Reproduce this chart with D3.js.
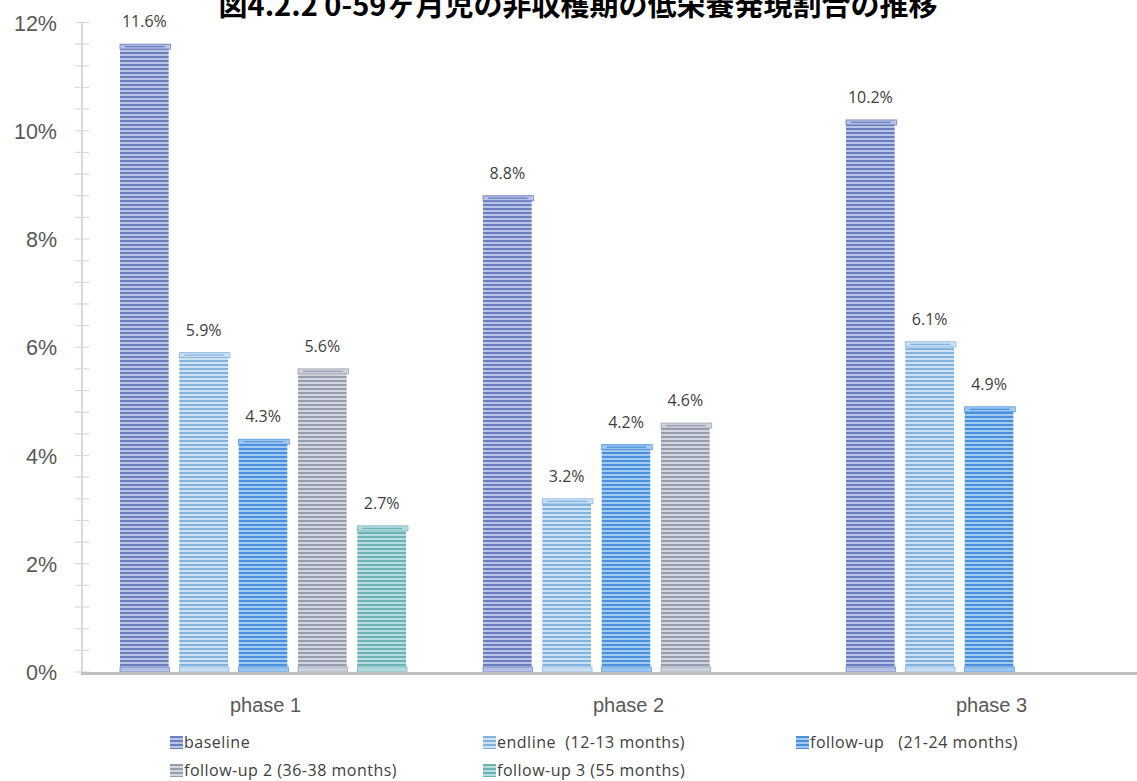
<!DOCTYPE html>
<html>
<head>
<meta charset="utf-8">
<script src="https://cdn.jsdelivr.net/npm/d3@7"></script>
<style>
  html, body { margin: 0; padding: 0; background: #fff; }
  svg { display: block; }
</style>
</head>
<body>
<svg id="chart" width="1137" height="781"></svg>
<script>
const titleText = "図4.2.2 0-59ヶ月児の非収穫期の低栄養発現割合の推移";
const categories = ["phase 1", "phase 2", "phase 3"];
const seriesNames = ["baseline", "endline  (12-13 months)", "follow-up   (21-24 months)", "follow-up 2 (36-38 months)", "follow-up 3 (55 months)"];
const baselineVals = [11.6, 8.8, 10.2];
const endlineVals = [5.9, 3.2, 6.1];
const followup1Vals = [4.3, 4.2, 4.9];
const followup2Vals = [5.6, 4.6, null];
const followup3Vals = [2.7, null, null];
const yTicks = [0, 2, 4, 6, 8, 10, 12];
const seriesDark = ["#6a7ec0", "#80b2de", "#4a90dc", "#959cb0", "#6bb2b5"];
const seriesLight = ["#b9c4e6", "#cfe2f4", "#a3caf1", "#d3d6df", "#b9dddf"];

const allVals = [baselineVals, endlineVals, followup1Vals, followup2Vals, followup3Vals];

const svg = d3.select("#chart");
const defs = svg.append("defs");
seriesNames.forEach((s, i) => {
  const p = defs.append("pattern").attr("id", "pat" + i)
    .attr("patternUnits", "userSpaceOnUse").attr("width", 4).attr("height", 4);
  p.append("rect").attr("width", 4).attr("height", 4).attr("fill", seriesLight[i]);
  p.append("rect").attr("y", 0).attr("width", 4).attr("height", 2).attr("fill", seriesDark[i]);
});

const y = d3.scaleLinear().domain([0, 12]).range([672, 22.5]);
const x0 = d3.scaleBand().domain(categories).range([84, 1173]).paddingInner(0).paddingOuter(0);
const x1 = d3.scaleBand().domain(d3.range(seriesNames.length)).range([36, 322]).paddingInner(0.18).paddingOuter(0);

// title (cropped at the top edge as in the reference)
svg.append("text").attr("x", 578).attr("y", 16).attr("text-anchor", "middle")
  .attr("font-family", "'Noto Sans CJK JP', sans-serif").attr("font-weight", "bold")
  .attr("font-size", 29).attr("fill", "#000").text(titleText);

// y axis
const yAxisG = svg.append("g").attr("transform", "translate(82,0)");
yAxisG.append("line").attr("x1", 0).attr("x2", 0).attr("y1", y(12)).attr("y2", y(0)).attr("stroke", "#d9d9d9").attr("stroke-width", 2);
const minorTicks = d3.range(0, 12.0001, 0.4);
yAxisG.selectAll("line.minor").data(minorTicks).join("line").attr("class", "minor")
  .attr("x1", -7).attr("x2", 7).attr("y1", d => y(d)).attr("y2", d => y(d))
  .attr("stroke", "#d9d9d9").attr("stroke-width", 1.2);
svg.selectAll("text.ytick").data(yTicks).join("text").attr("class", "ytick")
  .attr("x", 57).attr("y", d => y(d) + 8).attr("text-anchor", "end")
  .attr("font-family", "'Liberation Sans', Arial, sans-serif").attr("font-size", 21.5)
  .attr("fill", "#595959").text(d => d + "%");

// bars
const groups = svg.selectAll("g.cat").data(categories).join("g").attr("class", "cat")
  .attr("transform", d => `translate(${x0(d)},0)`);
groups.each(function(cat, ci) {
  const g = d3.select(this);
  allVals.forEach((vals, si) => {
    const v = vals[ci];
    if (v == null) return;
    const bx = x1(si), bw = x1.bandwidth();
    g.append("rect").attr("x", bx).attr("y", y(v)).attr("width", bw).attr("height", y(0) - y(v))
      .attr("fill", `url(#pat${si})`);
    // top cap
    g.append("rect").attr("x", bx).attr("y", y(v)).attr("width", bw + 2).attr("height", 5)
      .attr("fill", seriesLight[si]).attr("stroke", seriesDark[si]).attr("stroke-width", 0.8).attr("opacity", 0.9);
    g.append("line").attr("x1", bx + 5).attr("x2", bx + bw - 4).attr("y1", y(v) + 2.5).attr("y2", y(v) + 2.5)
      .attr("stroke", seriesDark[si]).attr("stroke-width", 1.2);
    // bottom cap
    g.append("rect").attr("x", bx).attr("y", y(0) - 5).attr("width", bw + 1).attr("height", 5)
      .attr("fill", seriesLight[si]).attr("stroke", seriesDark[si]).attr("stroke-width", 0.8).attr("opacity", 0.9);
    g.append("text").attr("x", bx + bw / 2).attr("y", y(v) - 17).attr("text-anchor", "middle")
      .attr("font-family", "'Open Sans', sans-serif").attr("font-size", 16)
      .attr("fill", "#404040").text(v.toFixed(1) + "%");
  });
});

// x axis baseline
svg.append("line").attr("x1", 81).attr("x2", 1137).attr("y1", y(0) + 1.5).attr("y2", y(0) + 1.5)
  .attr("stroke", "#bfbfbf").attr("stroke-width", 3);
svg.selectAll("text.xcat").data(categories).join("text").attr("class", "xcat")
  .attr("x", d => x0(d) + x0.bandwidth() / 2).attr("y", 712).attr("text-anchor", "middle")
  .attr("font-family", "'Liberation Sans', Arial, sans-serif").attr("font-size", 20)
  .attr("fill", "#595959").text(d => d);

// legend
const legendPos = [[170, 742], [483, 742], [796, 742], [170, 770], [483, 770]];
seriesNames.forEach((s, i) => {
  const [lx, ly] = legendPos[i];
  svg.append("rect").attr("x", lx).attr("y", ly - 6).attr("width", 13).attr("height", 13)
    .attr("fill", `url(#pat${i})`);
  svg.append("text").attr("x", lx + 14).attr("y", ly + 5.5).attr("xml:space", "preserve")
    .style("white-space", "pre")
    .attr("font-family", "'Open Sans', sans-serif").attr("font-size", 16)
    .attr("letter-spacing", 0.5)
    .attr("fill", "#404040").text(s);
});
</script>
</body>
</html>
